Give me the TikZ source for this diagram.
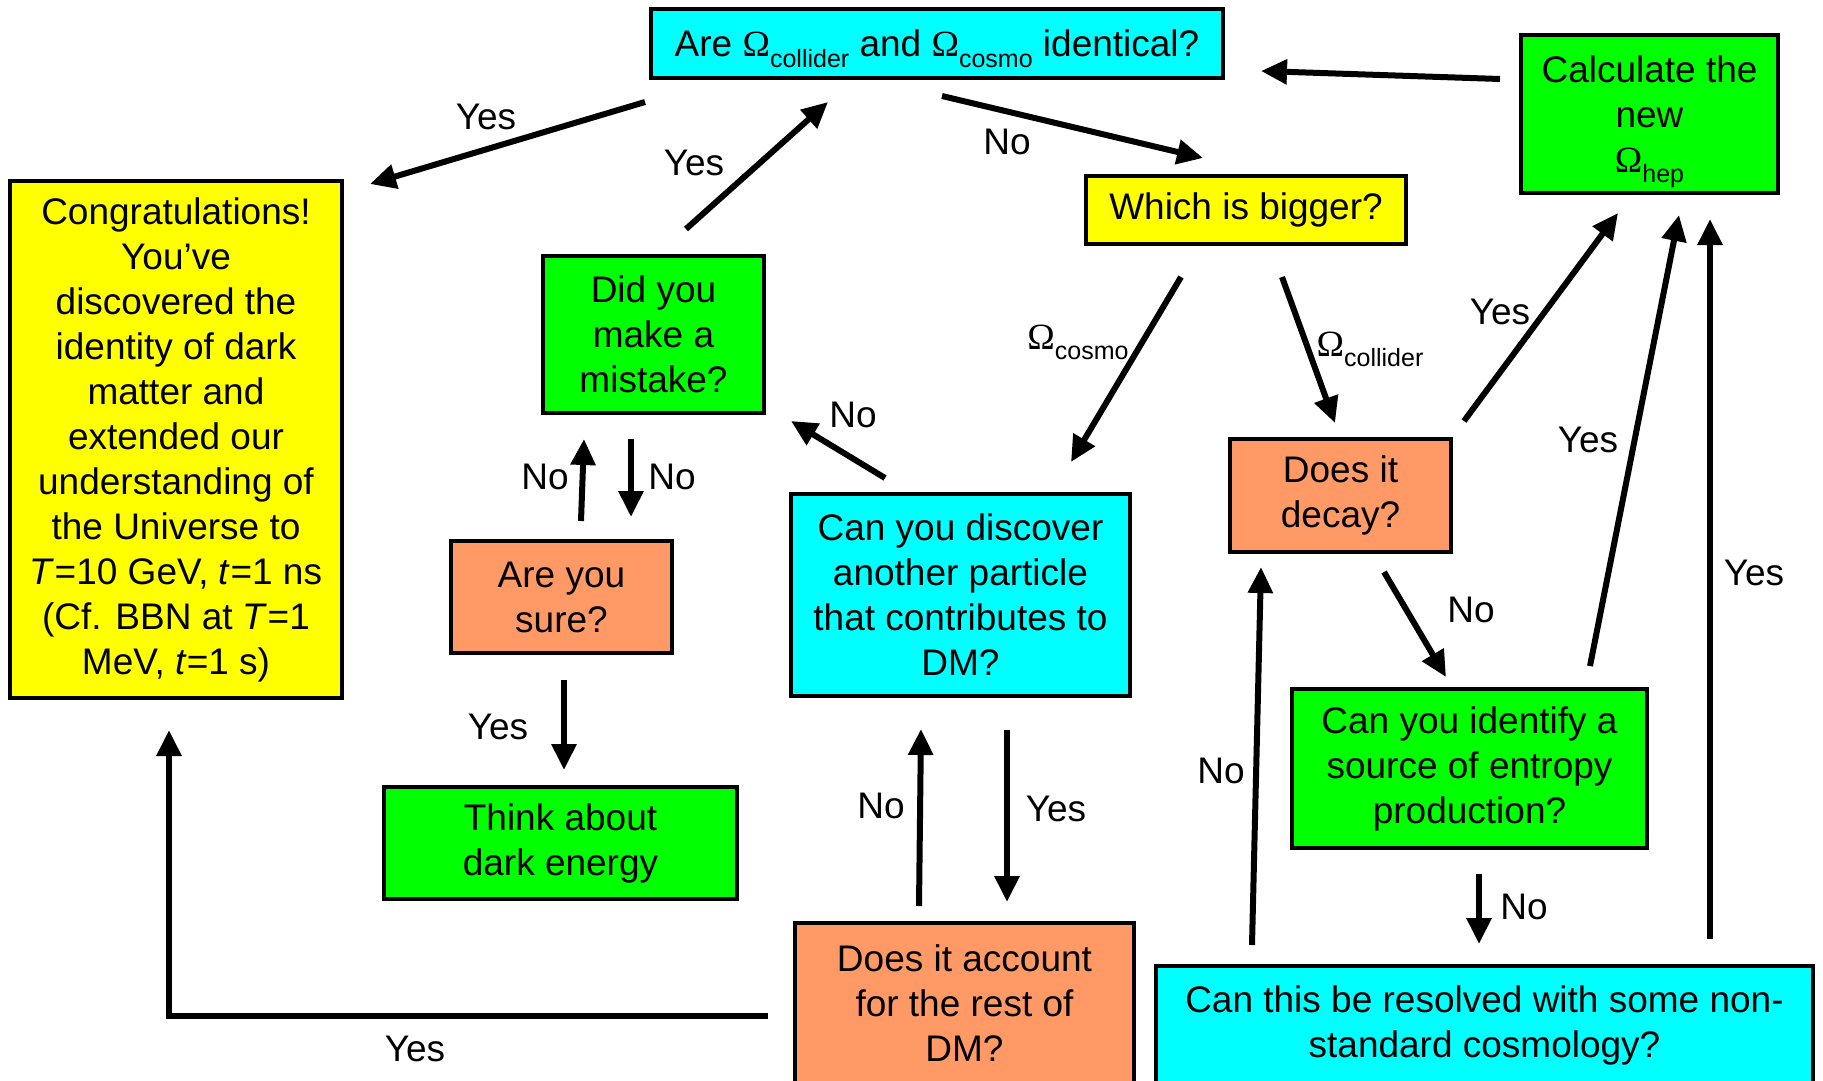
\documentclass[tikz,border=0pt]{standalone}
\usepackage{fontspec}
\setmainfont{Liberation Sans}
\newfontfamily\omf{Liberation Serif}
\usetikzlibrary{arrows.meta}
\definecolor{cy}{RGB}{0,255,255}
\definecolor{ye}{RGB}{255,255,0}
\definecolor{gr}{RGB}{0,255,0}
\definecolor{orn}{RGB}{255,153,102}
\newcommand\Om[1]{{\omf Ω}\raisebox{-0.28em}[0pt][0pt]{\fontsize{25}{25}\selectfont #1}}
\begin{document}
\begin{tikzpicture}[x=1pt,y=-1pt,
 box/.style={draw=black,line width=4pt,align=center,inner sep=0pt,font=\fontsize{37}{45}\selectfont},
 lbl/.style={font=\fontsize{37}{45}\selectfont,inner sep=0pt},
 arr/.style={line width=6pt,-{Triangle[length=26pt,width=24pt]}}]
\useasboundingbox[fill=white] (0,0) rectangle (1823,1080);
\begin{scope}
\clip (0,0) rectangle (1823,1080);
% boxes
\node[box,fill=cy,minimum width=572pt,minimum height=69pt] (A) at (937,43.5) {Are \Om{collider} and \Om{cosmo} identical?};
\node[box,fill=gr,minimum width=257pt,minimum height=158pt] (C) at (1649.5,114) {Calculate the\\new\\\Om{hep}};
\node[box,fill=ye,minimum width=332pt,minimum height=517pt] (G) at (176,439.5) {Congratulations!\\You’ve\\discovered the\\identity of dark\\matter and\\extended our\\understanding of\\the Universe to\\\textit{T}=10 GeV, \textit{t}=1 ns\\(Cf. BBN at \textit{T}=1\\MeV, \textit{t}=1 s)};
\node[box,fill=ye,minimum width=320pt,minimum height=68pt] (W) at (1246,210) {Which is bigger?};
\node[box,fill=gr,minimum width=221pt,minimum height=157pt] (M) at (653.5,334.5) {Did you\\make a\\mistake?};
\node[box,fill=orn,minimum width=221pt,minimum height=112pt] (S) at (561.5,597) {Are you\\sure?};
\node[box,fill=gr,minimum width=353pt,minimum height=112pt] (E) at (560.5,843) {Think about\\dark energy};
\node[box,fill=cy,minimum width=339pt,minimum height=202pt] (P) at (960.5,595) {Can you discover\\another particle\\that contributes to\\DM?};
\node[box,fill=orn,minimum width=339pt,minimum height=160pt] (R) at (964.5,1003) {Does it account\\for the rest of\\DM?};
\node[box,fill=orn,minimum width=221pt,minimum height=113pt] (D) at (1340.5,495.5) {Does it\\decay?};
\node[box,fill=gr,minimum width=355pt,minimum height=159pt] (I) at (1469.5,768.5) {Can you identify a\\source of entropy\\production?};
\node[box,fill=cy,minimum width=657pt,minimum height=118pt] (N) at (1484.5,1025) {Can this be resolved with some non-\\standard cosmology?};
\end{scope}
% connector end points
\coordinate (aG1) at (645,102);  \coordinate (aG2) at (370,184);
\coordinate (mA1) at (686,229);  \coordinate (mA2) at (828,102);
\coordinate (aW1) at (942,96);   \coordinate (aW2) at (1203,158);
\coordinate (cA1) at (1500,79);  \coordinate (cA2) at (1261,71);
\coordinate (wP1) at (1181,277); \coordinate (wP2) at (1071,462);
\coordinate (wD1) at (1282,277); \coordinate (wD2) at (1335,423);
\coordinate (dC1) at (1464,421); \coordinate (dC2) at (1618,213);
\coordinate (iC1) at (1590,666); \coordinate (iC2) at (1679,215);
\coordinate (nC1) at (1710,939); \coordinate (nC2) at (1710,219);
\coordinate (dI1) at (1384,572); \coordinate (dI2) at (1446,677);
\coordinate (iN1) at (1479,874); \coordinate (iN2) at (1479,944);
\coordinate (nD1) at (1252,945); \coordinate (nD2) at (1261,567);
\coordinate (pM1) at (885,478);  \coordinate (pM2) at (791,421);
\coordinate (sM1) at (581,521);  \coordinate (sM2) at (584,439);
\coordinate (mS1) at (631,439);  \coordinate (mS2) at (631,517);
\coordinate (sE1) at (564,680);  \coordinate (sE2) at (564,770);
\coordinate (rP1) at (919,906);  \coordinate (rP2) at (921,729);
\coordinate (pR1) at (1007,730); \coordinate (pR2) at (1007,902);
\coordinate (rG1) at (768,1016); \coordinate (rG2) at (169,730);
% connectors
\draw[arr] (aG1) -- (aG2);
\draw[arr] (mA1) -- (mA2);
\draw[arr] (aW1) -- (aW2);
\draw[arr] (cA1) -- (cA2);
\draw[arr] (wP1) -- (wP2);
\draw[arr] (wD1) -- (wD2);
\draw[arr] (dC1) -- (dC2);
\draw[arr] (iC1) -- (iC2);
\draw[arr] (nC1) -- (nC2);
\draw[arr] (dI1) -- (dI2);
\draw[arr] (iN1) -- (iN2);
\draw[arr] (nD1) -- (nD2);
\draw[arr] (pM1) -- (pM2);
\draw[arr] (sM1) -- (sM2);
\draw[arr] (mS1) -- (mS2);
\draw[arr] (sE1) -- (sE2);
\draw[arr] (rP1) -- (rP2);
\draw[arr] (pR1) -- (pR2);
\draw[arr] (rG1) -| (rG2);
% labels
\node[lbl] (l1) at (486,117) {Yes};
\node[lbl] (l2) at (694,163) {Yes};
\node[lbl] (l3) at (1007,142) {No};
\node[lbl] (l4) at (1078,337) {\Om{cosmo}};
\node[lbl] (l5) at (1370,344) {\Om{collider}};
\node[lbl] (l6) at (1500,312) {Yes};
\node[lbl] (l7) at (1588,440) {Yes};
\node[lbl] (l8) at (1754,573) {Yes};
\node[lbl] (l9) at (1471,610) {No};
\node[lbl] (l10) at (1524,907) {No};
\node[lbl] (l11) at (1221,771) {No};
\node[lbl] (l12) at (853,415) {No};
\node[lbl] (l13) at (545,477) {No};
\node[lbl] (l14) at (672,477) {No};
\node[lbl] (l15) at (498,727) {Yes};
\node[lbl] (l16) at (881,806) {No};
\node[lbl] (l17) at (1056,809) {Yes};
\node[lbl] (l18) at (415,1049) {Yes};
\end{tikzpicture}
\end{document}
